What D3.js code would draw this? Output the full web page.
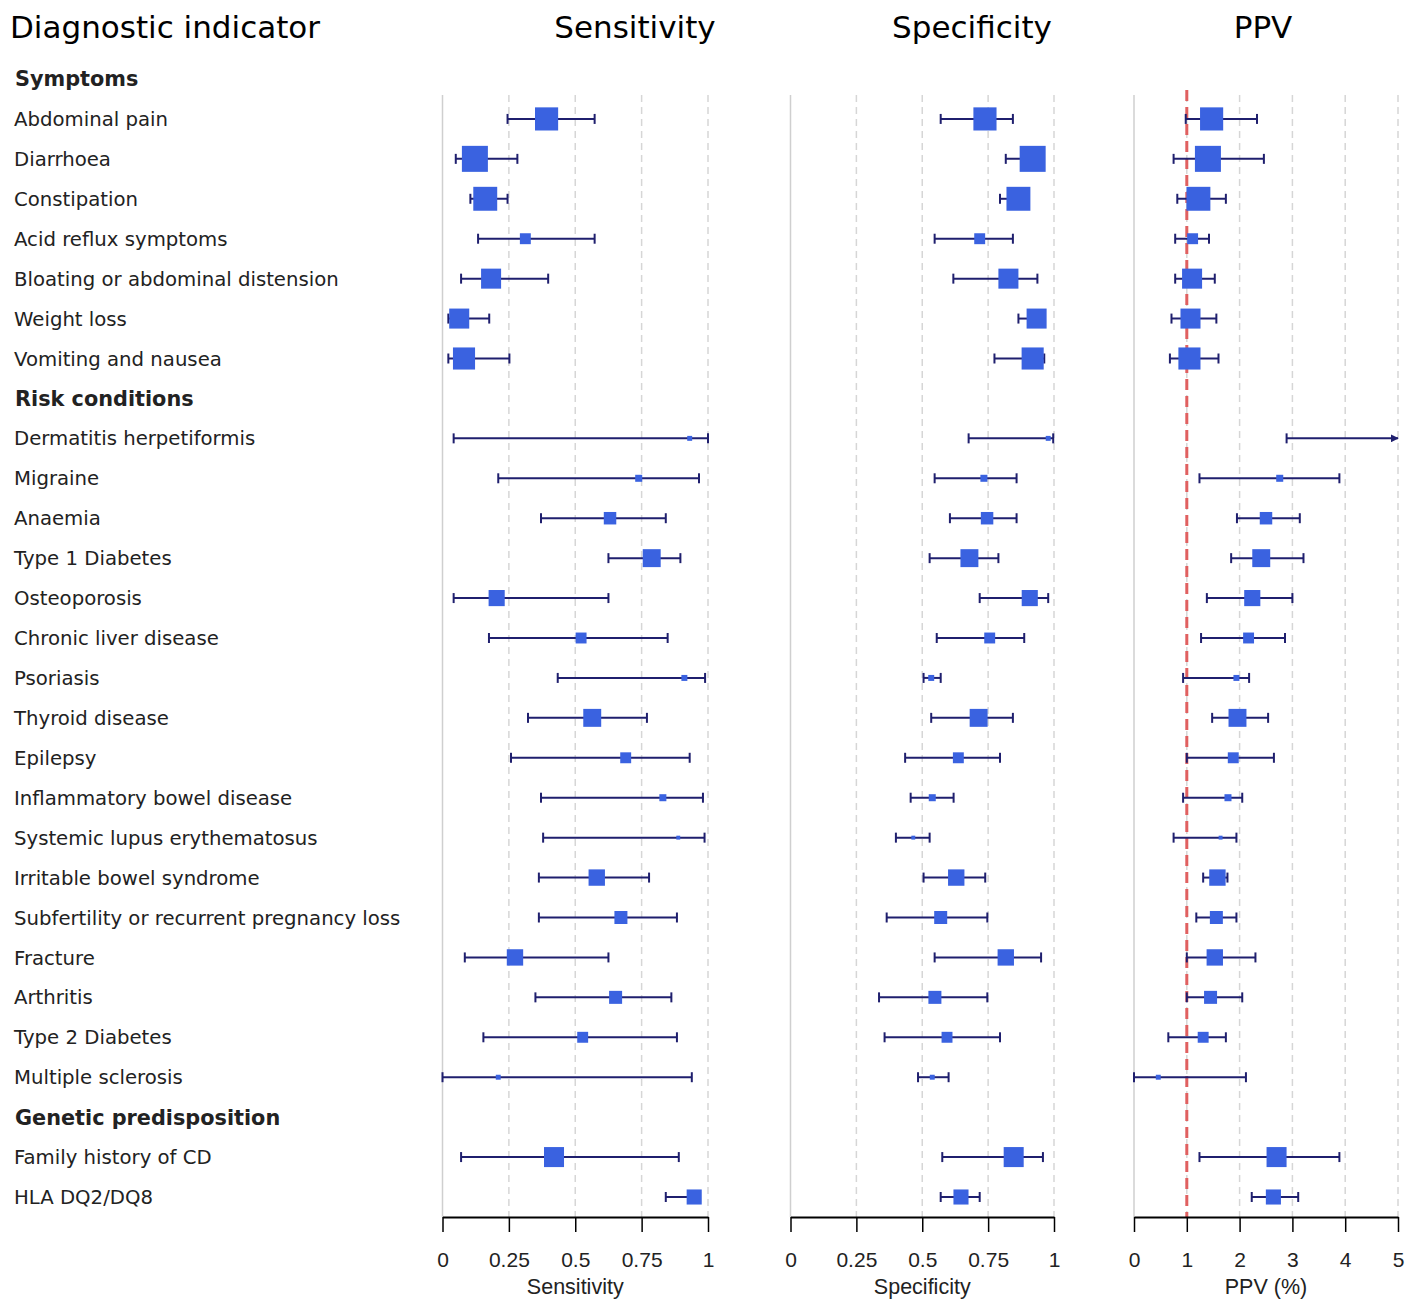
<!DOCTYPE html>
<html>
<head>
<meta charset="utf-8">
<script src="https://cdn.jsdelivr.net/npm/d3@7"></script>
<style>
  body { margin: 0; background: #fff; }
  text { font-family: 'DejaVu Sans', Verdana, sans-serif; }
  .tick text { font-family: 'Liberation Sans', Arial, sans-serif; }
</style>
</head>
<body>
<div id="chart"></div>
<script>
var groups = ['Symptoms', 'Risk conditions', 'Genetic predisposition']
var indicators = ['Abdominal pain', 'Diarrhoea', 'Constipation', 'Acid reflux symptoms',
  'Bloating or abdominal distension', 'Weight loss', 'Vomiting and nausea',
  'Dermatitis herpetiformis', 'Migraine', 'Anaemia', 'Type 1 Diabetes', 'Osteoporosis',
  'Chronic liver disease', 'Psoriasis', 'Thyroid disease', 'Epilepsy',
  'Inflammatory bowel disease', 'Systemic lupus erythematosus', 'Irritable bowel syndrome',
  'Subfertility or recurrent pregnancy loss', 'Fracture', 'Arthritis', 'Type 2 Diabetes',
  'Multiple sclerosis', 'Family history of CD', 'HLA DQ2/DQ8']
var indicatorGroup = [0, 0, 0, 0, 0, 0, 0, 1, 1, 1, 1, 1, 1, 1, 1, 1, 1, 1, 1, 1, 1, 1, 1, 1, 2, 2]

var weights = [8.9, 10.0, 9.2, 4.2, 7.7, 7.7, 8.5, 1.9, 2.7, 4.8, 6.9, 6.2, 4.2, 2.3, 6.9, 4.2,
  2.7, 1.5, 6.3, 5.0, 6.3, 5.0, 4.2, 1.9, 7.7, 5.8]

var sensEst = [0.392, 0.122, 0.161, 0.312, 0.183, 0.063, 0.081, 0.931, 0.739, 0.631, 0.788, 0.204,
  0.522, 0.911, 0.564, 0.690, 0.830, 0.888, 0.581, 0.672, 0.273, 0.652, 0.528, 0.210, 0.420, 0.948]
var sensLo = [0.245, 0.050, 0.105, 0.134, 0.070, 0.022, 0.022, 0.042, 0.210, 0.371, 0.625, 0.042,
  0.175, 0.434, 0.322, 0.258, 0.371, 0.379, 0.363, 0.363, 0.084, 0.350, 0.154, 0.000, 0.070, 0.841]
var sensHi = [0.573, 0.282, 0.245, 0.573, 0.398, 0.176, 0.252, 1.000, 0.966, 0.841, 0.896, 0.625,
  0.848, 0.989, 0.770, 0.931, 0.981, 0.987, 0.778, 0.883, 0.625, 0.862, 0.883, 0.939, 0.890, 0.970]

var specEst = [0.738, 0.919, 0.865, 0.718, 0.827, 0.934, 0.919, 0.978, 0.734, 0.746, 0.679, 0.908,
  0.756, 0.534, 0.714, 0.637, 0.538, 0.466, 0.629, 0.570, 0.817, 0.548, 0.594, 0.538, 0.847, 0.647]
var specLo = [0.570, 0.817, 0.795, 0.547, 0.618, 0.865, 0.774, 0.676, 0.547, 0.605, 0.528, 0.718,
  0.555, 0.505, 0.534, 0.435, 0.456, 0.400, 0.505, 0.365, 0.547, 0.336, 0.357, 0.484, 0.576, 0.570]
var specHi = [0.844, 0.950, 0.900, 0.844, 0.937, 0.960, 0.963, 0.997, 0.858, 0.858, 0.789, 0.978,
  0.887, 0.570, 0.844, 0.795, 0.619, 0.528, 0.739, 0.747, 0.951, 0.747, 0.795, 0.600, 0.958, 0.718]

var ppvEst = [1.47, 1.40, 1.22, 1.11, 1.10, 1.07, 1.05, 5.60, 2.76, 2.50, 2.41, 2.24,
  2.17, 1.94, 1.96, 1.88, 1.78, 1.64, 1.58, 1.56, 1.53, 1.45, 1.31, 0.46, 2.70, 2.64]
var ppvLo = [0.98, 0.75, 0.82, 0.78, 0.78, 0.71, 0.68, 2.89, 1.24, 1.95, 1.84, 1.38,
  1.27, 0.93, 1.48, 1.00, 0.93, 0.75, 1.31, 1.18, 1.00, 1.00, 0.65, 0.00, 1.24, 2.23]
var ppvHi = [2.33, 2.46, 1.74, 1.42, 1.53, 1.56, 1.60, 9.00, 3.89, 3.14, 3.21, 3.00,
  2.86, 2.18, 2.54, 2.65, 2.05, 1.94, 1.77, 1.94, 2.30, 2.05, 1.74, 2.12, 3.89, 3.11]

var ppvRef = 1

var width = 1417
var height = 1302

var svg = d3.select('#chart')
  .append('svg')
  .attr('width', width)
  .attr('height', height)

// rows: group header followed by its indicators
var rows = []
groups.forEach(function (g, gi) {
  rows.push({ label: g, header: true })
  indicators.forEach(function (name, i) {
    if (indicatorGroup[i] == gi) rows.push({ label: name, header: false, i: i })
  })
})

var y = d3.scalePoint()
  .domain(d3.range(rows.length))
  .range([79, 1197])

var size = d3.scaleLinear()
  .domain([0, d3.max(weights)])
  .range([0, 26])

var gridTop = 95
var axisY = 1217

svg.append('text')
  .attr('x', 10)
  .attr('y', 38)
  .attr('font-size', 31)
  .attr('fill', '#000')
  .text('Diagnostic indicator')

rows.forEach(function (r, k) {
  svg.append('text')
    .attr('x', r.header ? 15 : 14)
    .attr('y', y(k))
    .attr('dy', '0.36em')
    .attr('font-size', r.header ? 20.8 : 19.7)
    .attr('font-weight', r.header ? 'bold' : 'normal')
    .attr('fill', '#222')
    .text(r.label)
})

var panels = [
  { title: 'Sensitivity', titleX: 635, axisLabel: 'Sensitivity', range: [442.5, 708], domain: [0, 1],
    ticks: [0, 0.25, 0.5, 0.75, 1], est: sensEst, lo: sensLo, hi: sensHi },
  { title: 'Specificity', titleX: 972, axisLabel: 'Specificity', range: [790.5, 1054], domain: [0, 1],
    ticks: [0, 0.25, 0.5, 0.75, 1], est: specEst, lo: specLo, hi: specHi },
  { title: 'PPV', titleX: 1263, axisLabel: 'PPV (%)', range: [1134, 1398], domain: [0, 5],
    ticks: [0, 1, 2, 3, 4, 5], est: ppvEst, lo: ppvLo, hi: ppvHi, ref: ppvRef }
]

var defs = svg.append('defs')
defs.append('marker')
  .attr('id', 'arrow')
  .attr('viewBox', '0 0 10 10')
  .attr('refX', 9)
  .attr('refY', 5)
  .attr('markerWidth', 4)
  .attr('markerHeight', 4)
  .attr('orient', 'auto')
  .append('path')
  .attr('d', 'M0,0 L10,5 L0,10 z')
  .attr('fill', '#1f1f6e')

panels.forEach(function (p) {
  var x = d3.scaleLinear().domain(p.domain).range(p.range)
  var g = svg.append('g')

  svg.append('text')
    .attr('x', p.titleX)
    .attr('y', 38)
    .attr('text-anchor', 'middle')
    .attr('font-size', 31)
    .attr('fill', '#000')
    .text(p.title)

  // grid
  g.selectAll('.grid')
    .data(p.ticks)
    .enter()
    .append('line')
    .attr('x1', function (d) { return x(d) })
    .attr('x2', function (d) { return x(d) })
    .attr('y1', gridTop)
    .attr('y2', axisY)
    .attr('stroke', function (d, i) { return i == 0 ? '#cfcfcf' : '#d6d6d6' })
    .attr('stroke-width', 1.5)
    .attr('stroke-dasharray', function (d, i) { return i == 0 ? null : '7,5' })

  if (p.ref != null) {
    g.append('line')
      .attr('x1', x(p.ref))
      .attr('x2', x(p.ref))
      .attr('y1', gridTop - 5)
      .attr('y2', axisY)
      .attr('stroke', '#e06060')
      .attr('stroke-width', 3)
      .attr('stroke-dasharray', '11,6')
  }

  var items = rows.filter(function (r) { return !r.header })
  var maxV = p.domain[1]

  var el = g.selectAll('.item')
    .data(items)
    .enter()
    .append('g')
    .attr('transform', function (r) { return 'translate(0,' + y(rows.indexOf(r)) + ')' })

  el.append('line')
    .attr('x1', function (r) { return x(p.lo[r.i]) })
    .attr('x2', function (r) { return x(Math.min(p.hi[r.i], maxV)) })
    .attr('stroke', '#1f1f6e')
    .attr('stroke-width', 2)
    .attr('marker-end', function (r) { return p.hi[r.i] > maxV ? 'url(#arrow)' : null })

  el.append('line')
    .attr('x1', function (r) { return x(p.lo[r.i]) })
    .attr('x2', function (r) { return x(p.lo[r.i]) })
    .attr('y1', -5)
    .attr('y2', 5)
    .attr('stroke', '#1f1f6e')
    .attr('stroke-width', 2)

  el.filter(function (r) { return p.hi[r.i] <= maxV })
    .append('line')
    .attr('x1', function (r) { return x(p.hi[r.i]) })
    .attr('x2', function (r) { return x(p.hi[r.i]) })
    .attr('y1', -5)
    .attr('y2', 5)
    .attr('stroke', '#1f1f6e')
    .attr('stroke-width', 2)

  el.filter(function (r) { return p.est[r.i] <= maxV })
    .append('rect')
    .attr('x', function (r) { return x(p.est[r.i]) - size(weights[r.i]) / 2 })
    .attr('y', function (r) { return -size(weights[r.i]) / 2 })
    .attr('width', function (r) { return size(weights[r.i]) })
    .attr('height', function (r) { return size(weights[r.i]) })
    .attr('fill', '#3a62e0')

  var axis = d3.axisBottom(x)
    .tickValues(p.ticks)
    .tickSize(15)
    .tickSizeOuter(0)
    .tickPadding(20)
    .tickFormat(d3.format(''))

  var ax = svg.append('g')
    .attr('transform', 'translate(0,' + axisY + ')')
    .call(axis)
  ax.select('.domain').attr('stroke', '#000').attr('stroke-width', 2)
  ax.selectAll('.tick line').attr('stroke', '#000').attr('stroke-width', 1.5)
  ax.selectAll('.tick text')
    .attr('font-size', 21)
    .attr('fill', '#222')

  svg.append('text')
    .attr('x', (p.range[0] + p.range[1]) / 2)
    .attr('y', 1294)
    .attr('text-anchor', 'middle')
    .attr('font-size', 21.5)
    .attr('fill', '#222')
    .style('font-family', "'Liberation Sans', Arial, sans-serif")
    .text(p.axisLabel)
})
</script>
</body>
</html>
